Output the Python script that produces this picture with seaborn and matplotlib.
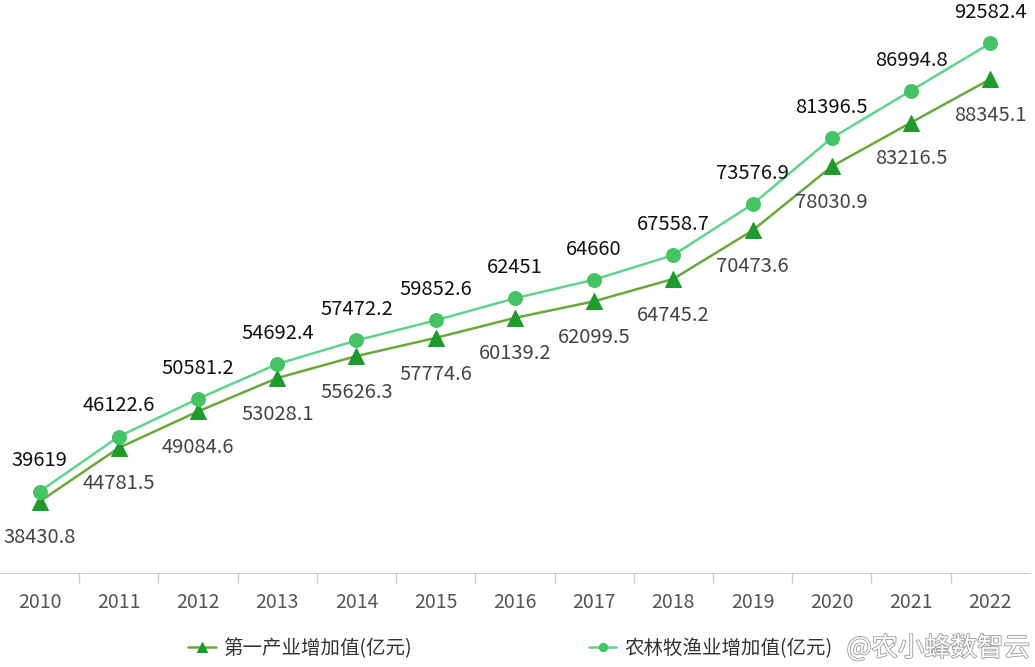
import pandas as pd
import matplotlib.pyplot as plt
import matplotlib.patheffects as pe
import seaborn as sns

years = ['2010', '2011', '2012', '2013', '2014', '2015', '2016',
         '2017', '2018', '2019', '2020', '2021', '2022']
primary = [38430.8, 44781.5, 49084.6, 53028.1, 55626.3, 57774.6, 60139.2,
           62099.5, 64745.2, 70473.6, 78030.9, 83216.5, 88345.1]
agri = [39619, 46122.6, 50581.2, 54692.4, 57472.2, 59852.6, 62451,
        64660, 67558.7, 73576.9, 81396.5, 86994.8, 92582.4]
primary_labels = ['38430.8', '44781.5', '49084.6', '53028.1', '55626.3', '57774.6', '60139.2',
                  '62099.5', '64745.2', '70473.6', '78030.9', '83216.5', '88345.1']
agri_labels = ['39619', '46122.6', '50581.2', '54692.4', '57472.2', '59852.6', '62451',
               '64660', '67558.7', '73576.9', '81396.5', '86994.8', '92582.4']

name1 = '第一产业增加值(亿元)'
name2 = '农林牧渔业增加值(亿元)'


def main():
    sns.set_style('white')
    plt.rcParams['font.family'] = ['Noto Sans CJK SC', 'DejaVu Sans']

    df = pd.DataFrame({'year': years, name1: primary, name2: agri})
    x = list(range(len(years)))

    fig = plt.figure(figsize=(10.35, 6.67), dpi=100)
    ax = fig.add_axes([0.0, 0.141, 0.995, 0.859])

    sns.lineplot(x=x, y=df[name1], ax=ax, color='#6aa83c', linewidth=1.8,
                 marker='^', markersize=11, markerfacecolor='#1f9a2c',
                 markeredgecolor='#1f9a2c', label=name1, legend=False)
    sns.lineplot(x=x, y=df[name2], ax=ax, color='#5fd48c', linewidth=1.8,
                 marker='o', markersize=10, markerfacecolor='#45c466',
                 markeredgecolor='#45c466', label=name2, legend=False)

    # 数据标签
    for i in x:
        ax.annotate(agri_labels[i], (i, agri[i]), xytext=(0, 22), textcoords='offset points',
                    ha='center', va='center', fontsize=14.5, color='#111111')
        ax.annotate(primary_labels[i], (i, primary[i]), xytext=(0, -26), textcoords='offset points',
                    ha='center', va='center', fontsize=14.5, color='#444444')

    ax.set_xlim(-0.5, len(years) - 0.5)
    ax.set_ylim(30000, 97700)
    ax.set_xticks(x)
    ax.set_xticklabels(years, fontsize=14, color='#555555')
    ax.set_yticks([])
    ax.set_xlabel('')
    ax.set_ylabel('')
    for s in ['top', 'left', 'right']:
        ax.spines[s].set_visible(False)
    ax.spines['bottom'].set_color('#cccccc')
    ax.tick_params(axis='x', which='major', length=0, pad=14)
    # 类别分隔刻度
    ax.set_xticks([i + 0.5 for i in x[:-1]], minor=True)
    ax.tick_params(axis='x', which='minor', bottom=True, length=7, width=1,
                   color='#cccccc', direction='out')

    handles, labels = ax.get_legend_handles_labels()
    fig.legend(handles, labels, loc='center', bbox_to_anchor=(0.493, 0.028), ncol=2,
               frameon=False, fontsize=14, labelcolor='#333333', columnspacing=9.1,
               handlelength=1.4, markerscale=0.6, handletextpad=0.4)

    fig.text(0.995, 0.028, '@农小蜂数智云', ha='right', va='center', fontsize=19,
             color='#ffffff', path_effects=[pe.withStroke(linewidth=1.2, foreground='#9a9a9a')])

    fig.savefig('out.png', dpi=100)


if __name__ == "__main__":
    main()
